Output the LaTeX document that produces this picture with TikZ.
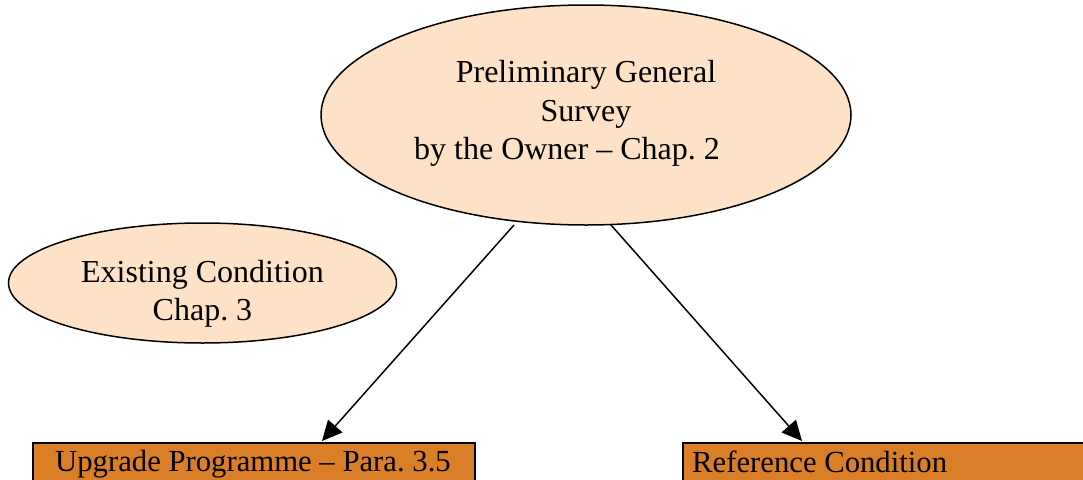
\documentclass[tikz,border=0pt]{standalone}
\usepackage{fontspec}
\setmainfont{Liberation Serif}
\usetikzlibrary{arrows.meta,shapes.geometric}
\definecolor{peach}{RGB}{253,226,199}
\definecolor{orangebox}{RGB}{218,127,40}
\tikzset{
  oval/.style={ellipse, draw=black, line width=1.5pt, fill=peach, inner sep=0pt},
  ovaltext/.style={align=center, inner sep=0pt, anchor=north, font=\frenchspacing\fontsize{32}{38.5}\selectfont},
  barbox/.style={draw=black, line width=2pt, fill=orangebox, inner sep=0pt, anchor=north west},
  bartext/.style={inner sep=0pt, anchor=base west, font=\frenchspacing\fontsize{30.7}{36}\selectfont},
  link/.style={line width=1.5pt, -{Triangle[length=20pt,width=19pt]}}
}
\frenchspacing
\begin{document}
\begin{tikzpicture}[x=1pt,y=-1pt]
\useasboundingbox (0,0) rectangle (1083,479);
\clip (0,0) rectangle (1083,479);
\fill[white] (0,0) rectangle (1083,479);
% ellipses
\node[oval, minimum width=530pt, minimum height=220pt] (survey) at (586,115) {};
\node[ovaltext] (surveytxt) at (586,60.5) {Preliminary General\\Survey\\by the Owner -- Chap. 2\hspace*{38pt}};
\node[oval, minimum width=388pt, minimum height=120pt] (exist) at (202.5,283) {};
\node[ovaltext] (existtxt) at (202.5,260) {Existing Condition\\Chap. 3};
% boxes
\node[barbox, minimum width=441.7pt, minimum height=60pt] (upgrade) at (32.3,441.7) {};
\node[bartext] (upgradetxt) at (55,471.7) {Upgrade Programme -- Para. 3.5};
\node[barbox, minimum width=430pt, minimum height=60pt] (refcond) at (682,442) {};
\node[bartext] (reftxt) at (692,472) {Reference Condition};
% connectors
\coordinate (s1) at (514,225);
\coordinate (s2) at (611,225);
\coordinate (t1) at (322,441);
\coordinate (t2) at (802,441);
\draw[link] (s1) -- (t1);
\draw[link] (s2) -- (t2);
\end{tikzpicture}
\end{document}
